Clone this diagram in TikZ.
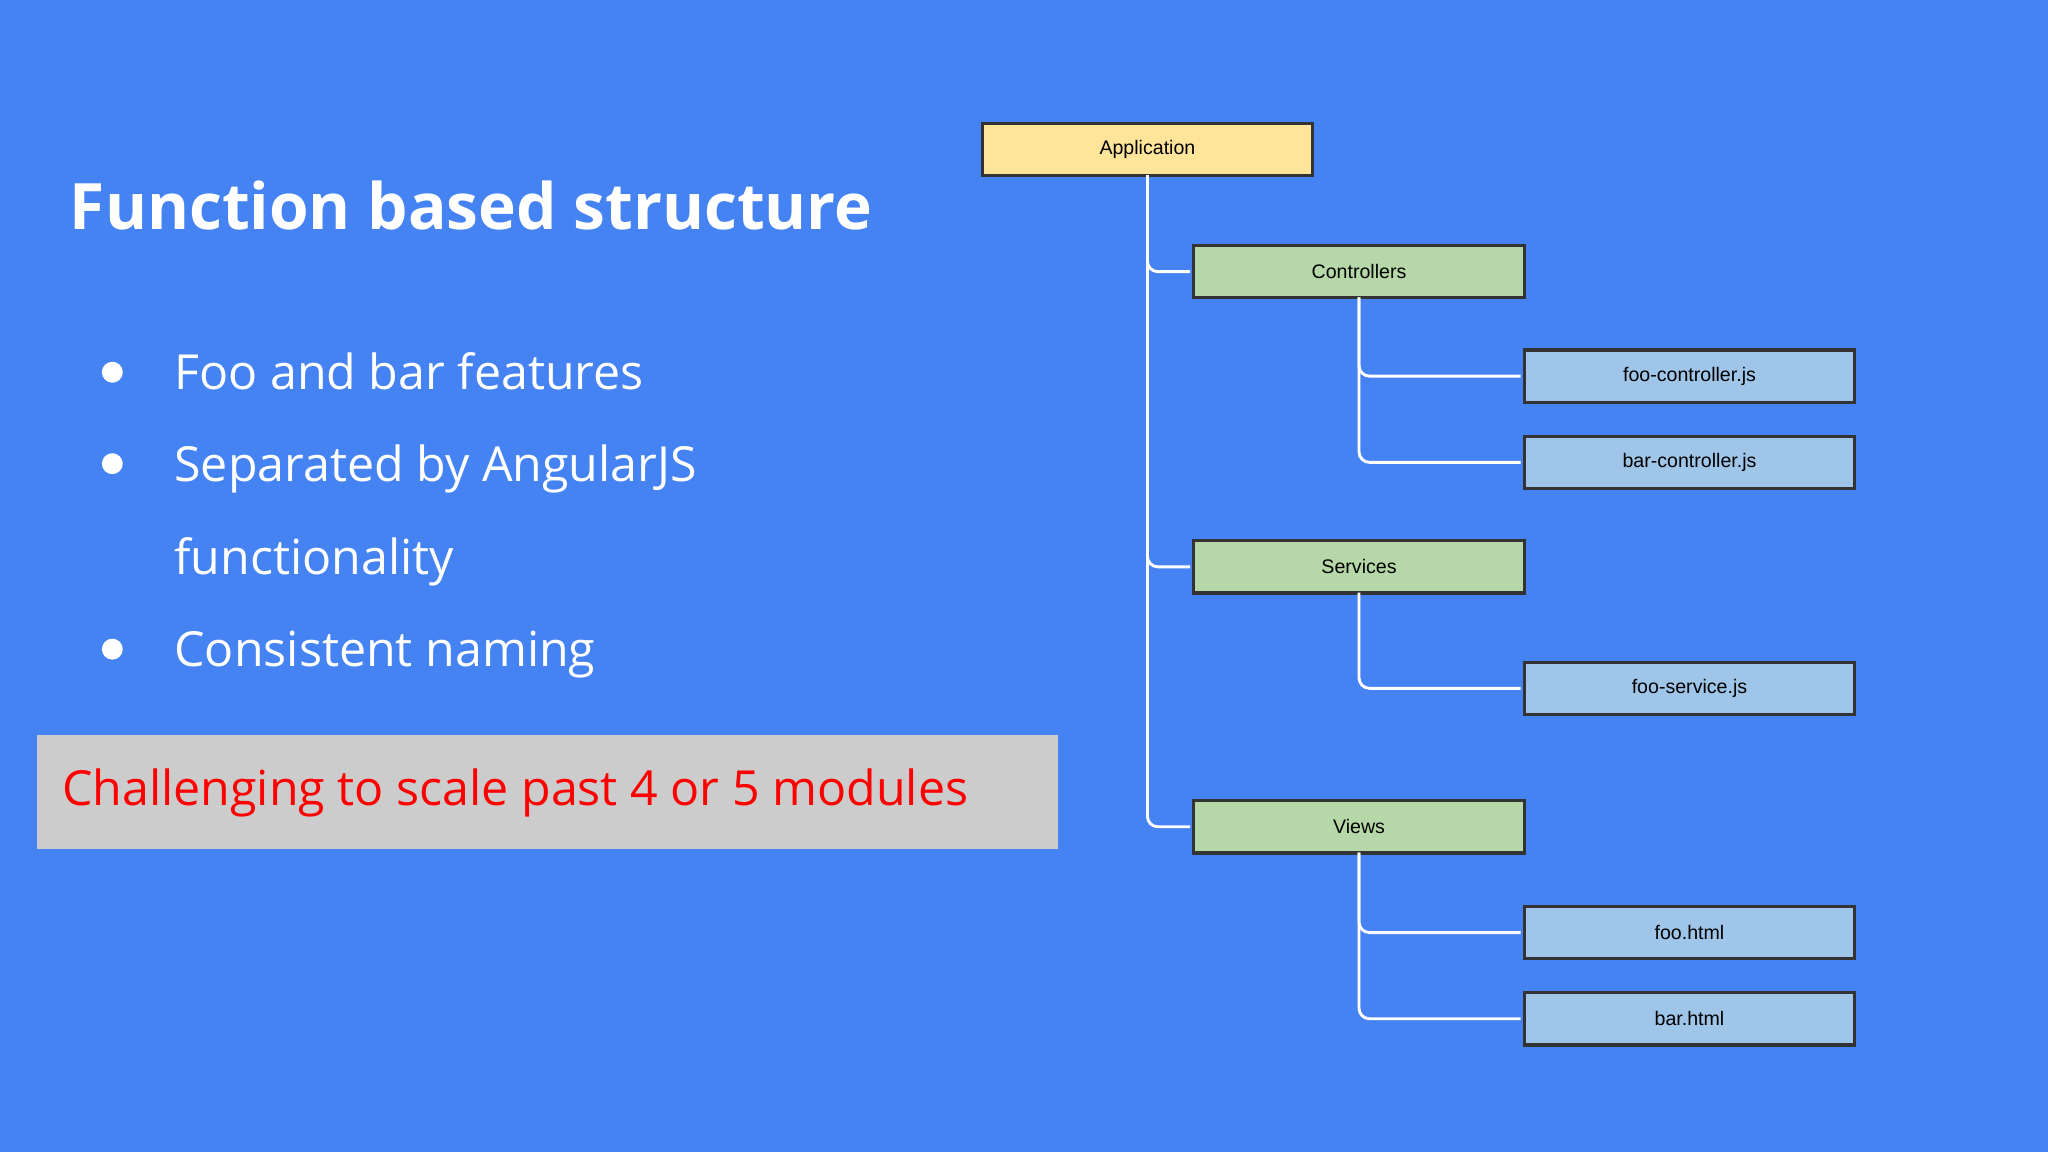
\documentclass[tikz,border=0pt]{standalone}
\usepackage{fontspec}
\setmainfont{Open Sans}
\newfontfamily\boxfont{Liberation Sans}
\definecolor{bg}{HTML}{4683F2}
\definecolor{yel}{HTML}{FFE599}
\definecolor{grn}{HTML}{B6D7A8}
\definecolor{blu}{HTML}{9FC5E8}
\definecolor{gry}{HTML}{CCCCCC}
\begin{document}
\begin{tikzpicture}[x=1pt,y=-1pt,
  box/.style={draw=black!80,line width=2.5pt,minimum width=253pt,minimum height=40pt,inner sep=0pt,font=\boxfont\fontsize{15}{18}\selectfont},
  link/.style={white,line width=2.2pt,rounded corners=8pt},
  bul/.style={anchor=base west,text=white,font=\fontsize{37}{44}\selectfont}]
\fill[bg] (0,0) rectangle (1568,882);
\useasboundingbox (0,0) rectangle (1568,882);
\node[anchor=base west,text=white,font=\bfseries\fontsize{49}{58}\selectfont] (title) at (50,176) {Function based structure};
\foreach \y/\n in {285/b1,355/b2,497/b3}{\fill[white] (86,\y) circle (8);}
\node[bul] (t1) at (130,298) {Foo and bar features};
\node[bul] (t2) at (130,369) {Separated by AngularJS};
\node[bul] (t3) at (130,440) {functionality};
\node[bul] (t4) at (130,510) {Consistent naming};
\fill[gry] (28,563) rectangle (810,650);
\node[anchor=base west,text=red,font=\fontsize{37}{44}\selectfont] (ch) at (44,617) {Challenging to scale past 4 or 5 modules};
\node[box,fill=yel] (app) at (878.5,114.5) {Application};
\node[box,fill=grn] (ctl) at (1040.5,208) {Controllers};
\node[box,fill=blu] (fc) at (1293.5,288) {foo-controller.js};
\node[box,fill=blu] (bc) at (1293.5,354) {bar-controller.js};
\node[box,fill=grn] (srv) at (1040.5,434) {Services};
\node[box,fill=blu] (fs) at (1293.5,527) {foo-service.js};
\node[box,fill=grn] (vw) at (1040.5,633) {Views};
\node[box,fill=blu] (fh) at (1293.5,714) {foo.html};
\node[box,fill=blu] (bh) at (1293.5,780) {bar.html};
\begin{scope}[on background layer/.try]
\foreach \p/\c in {app/ctl,app/srv,app/vw}{\draw[link] ([yshift=1.5pt]\p.south) |- ([xshift=-1.5pt]\c.west);}
\foreach \p/\c in {ctl/fc,ctl/bc,srv/fs,vw/fh,vw/bh}{\draw[link] ([yshift=1.5pt]\p.south) |- ([xshift=-1.5pt]\c.west);}
\end{scope}
\end{tikzpicture}
\end{document}
